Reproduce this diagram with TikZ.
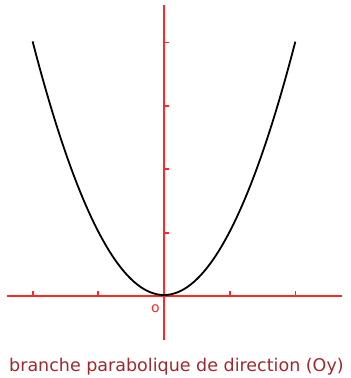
\documentclass[tikz,border=0pt]{standalone}
\usepackage{fontspec}
\setmainfont{DejaVu Sans}
\usetikzlibrary{calc}
\definecolor{axred}{RGB}{255,40,40}
\definecolor{capred}{RGB}{160,40,45}
\begin{document}
\begin{tikzpicture}[x=1pt,y=-1pt,
  axis/.style={draw=axred, line width=1.8pt},
  tick/.style={draw=axred, line width=1.8pt},
  curve/.style={draw=black, line width=1.8pt},
  caption/.style={text=capred, font=\fontsize{17.5}{17.5}\selectfont, inner sep=0pt, anchor=base west}]
\useasboundingbox (0,0) rectangle (351,378);
\coordinate (O) at (164,296);
\coordinate (xl) at (7,296);
\coordinate (xr) at (342,296);
\coordinate (yt) at (164,5);
\coordinate (yb) at (164,340);
\draw[axis] (xl) -- (xr);
\draw[axis] (yb) -- (yt);
\foreach \k in {-2,-1,1,2} \draw[tick] ($(O)+(\k*65.7,0)$) -- ++(0,-5);
\foreach \k in {1,2,3,4} \draw[tick] ($(O)+(0,-\k*63.4)$) -- ++(5,0);
\draw[curve] plot[domain=-2:2, samples=81, smooth] ({164+\x*65.7},{295-63.4*\x*\x});
\node[axred, font=\fontsize{14}{14}\selectfont, inner sep=0pt] (o) at (155.5,309) {o};
\node[caption] (cap) at (9,371) {branche parabolique de direction (Oy)};
\end{tikzpicture}
\end{document}
